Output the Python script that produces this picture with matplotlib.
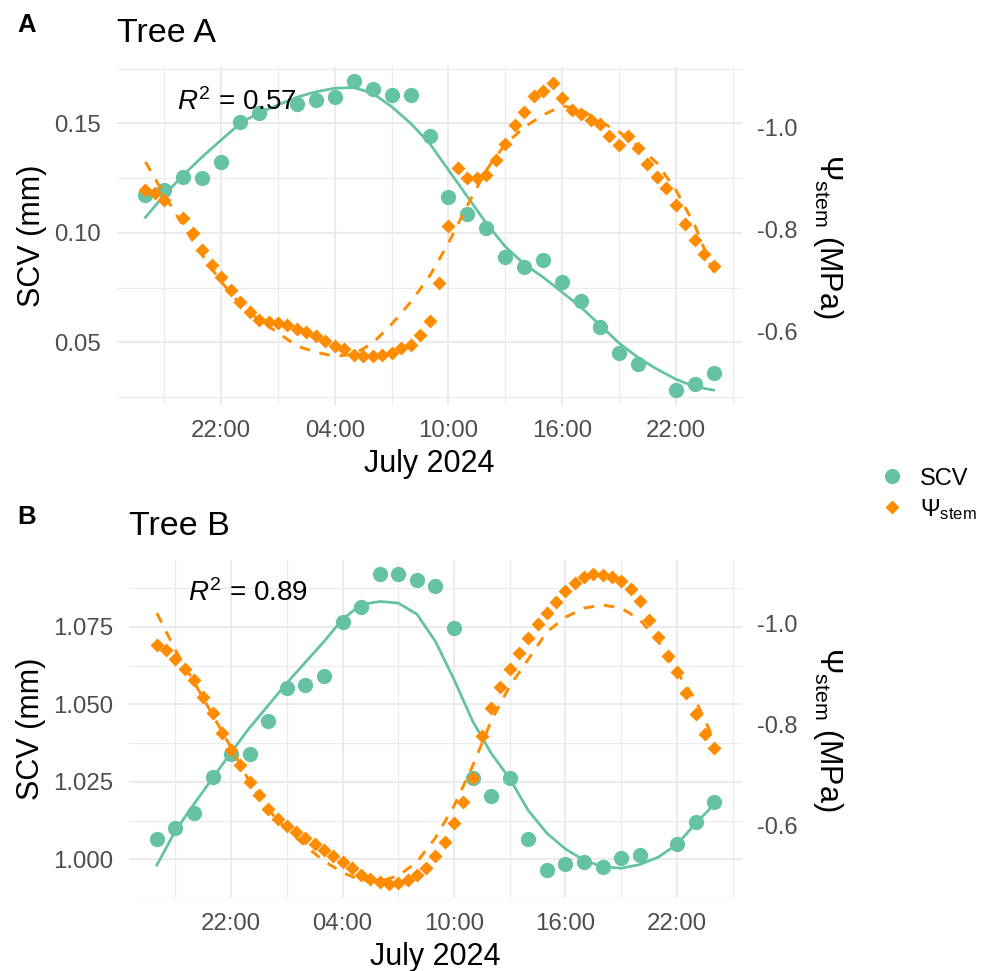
import numpy as np
import pandas as pd
import matplotlib
matplotlib.use('Agg')
import matplotlib.pyplot as plt
import matplotlib.dates as mdates
from matplotlib.lines import Line2D

plt.rcParams['font.family'] = ['Liberation Sans', 'DejaVu Sans']
plt.rcParams['mathtext.fontset'] = 'custom'
plt.rcParams['mathtext.rm'] = 'Liberation Sans'
plt.rcParams['mathtext.it'] = 'Liberation Sans:italic'
plt.rcParams['mathtext.bf'] = 'Liberation Sans:bold'
plt.rcParams['axes.unicode_minus'] = False

GREEN = '#66C2A5'
ORANGE = '#FF8C00'
nan = np.nan

# time axes: hourly SCV / fits, half-hourly stem water potential
t_hour = pd.date_range('2024-07-15 18:00', periods=31, freq='h')
t_half = pd.date_range('2024-07-15 18:00', periods=61, freq='30min')

# ---- Tree A ----
scv_a = [0.1173, 0.1195, 0.1253, 0.1249, 0.1325, 0.1505,
         0.1546, nan, 0.1586, 0.1606, 0.1618, 0.1695, 0.1658, 0.1628, 0.1628, 0.1443,
         0.1164, 0.1086, 0.1021, 0.0891, 0.0842, 0.0874, 0.0777, 0.0690, 0.0571, 0.0450,
         0.0401, nan, 0.0282, 0.0311, 0.0358]
scv_a_fit = [0.1071, 0.1173, 0.1264, 0.1347, 0.1424, 0.1500, 0.1548, 0.1584, 0.1619, 0.1644,
             0.1660, 0.1663, 0.1637, 0.1576, 0.1500, 0.1409, 0.1287, 0.1165, 0.1043, 0.0937,
             0.0857, 0.0797, 0.0729, 0.0660, 0.0579, 0.0497, 0.0431, 0.0378, 0.0332, 0.0298,
             0.0282]
psi_a = [-0.878, -0.872, -0.859, nan, -0.824, -0.793, -0.760, -0.730, -0.708, -0.681, -0.658, -0.639,
         -0.623, -0.620, -0.617, -0.613, -0.606, -0.600, -0.592, -0.581, -0.573, -0.566, -0.554, -0.553,
         -0.553, -0.554, -0.558, -0.568, -0.575, -0.593, -0.621, -0.696, -0.808, -0.922, -0.901, -0.901,
         -0.907, -0.936, -0.969, -1.005, -1.030, -1.062, -1.071, -1.088, -1.058, -1.035, -1.026, -1.016,
         -1.007, -0.984, -0.967, -0.984, -0.960, -0.928, -0.903, -0.881, -0.848, -0.811, -0.780, -0.753,
         -0.729]
psi_a_fit = [-0.933, -0.868, -0.807, -0.750, -0.698, -0.654, -0.623, -0.598, -0.572, -0.560,
             -0.552, -0.556, -0.578, -0.615, -0.658, -0.709, -0.774, -0.848, -0.917, -0.968,
             -1.001, -1.025, -1.043, -1.035, -1.012, -0.992, -0.964, -0.931, -0.878, -0.809,
             -0.717]

# ---- Tree B ----
scv_b = [1.0064, 1.0100, 1.0149, 1.0265, 1.0339, 1.0340,
         1.0447, 1.0554, 1.0564, 1.0592, 1.0765, 1.0815, 1.0920, 1.0920, 1.0901, 1.0882,
         1.0747, 1.0263, 1.0205, 1.0263, 1.0064, 0.9966, 0.9986, 0.9992, 0.9974, 1.0004,
         1.0014, nan, 1.0050, 1.0121, 1.0186]
scv_b_fit = [0.9981, 1.0092, 1.0178, 1.0262, 1.0345, 1.0425, 1.0497, 1.0569, 1.0636, 1.0703,
             1.0775, 1.0822, 1.0832, 1.0827, 1.0791, 1.0703, 1.0580, 1.0446, 1.0342, 1.0260,
             1.0157, 1.0084, 1.0033, 0.9997, 0.9976, 0.9971, 0.9983, 1.0007, 1.0048, 1.0115,
             1.0177]
psi_b = [-0.957, -0.947, -0.929, -0.910, -0.888, -0.854, -0.823, -0.783, -0.750, -0.720, -0.687, -0.660,
         -0.632, -0.613, -0.599, -0.587, -0.575, -0.563, -0.551, -0.540, -0.528, -0.516, -0.502, -0.494,
         -0.489, -0.484, -0.487, -0.493, -0.502, -0.516, -0.540, -0.568, -0.605, -0.646, -0.694, -0.778,
         -0.833, -0.873, -0.909, -0.941, -0.970, -0.998, -1.021, -1.041, -1.063, -1.079, -1.091, -1.097,
         -1.095, -1.091, -1.083, -1.068, -1.044, -1.007, -0.972, -0.936, -0.903, -0.862, -0.821, -0.782,
         -0.753]
psi_b_fit = [-1.020, -0.947, -0.884, -0.819, -0.754, -0.686, -0.631, -0.592, -0.560, -0.530,
             -0.507, -0.492, -0.490, -0.501, -0.528, -0.576, -0.639, -0.718, -0.807, -0.876,
             -0.929, -0.983, -1.012, -1.030, -1.036, -1.030, -1.007, -0.965, -0.904, -0.848,
             -0.769]

panels = [
    dict(letter='A', title='Tree A', r2='0.57', scv=scv_a, fit=scv_a_fit, psi=psi_a, pfit=psi_a_fit,
         pos=[0.1187, 0.5829, 0.6339, 0.3481], ylim=(0.0214, 0.1757), plim=(-0.4565, -1.119),
         major=[0.05, 0.10, 0.15], minor=[0.025, 0.075, 0.125, 0.175], fmt='%.2f',
         r2_xy=(pd.Timestamp('2024-07-15 22:47'), 0.1599), letter_y=25),
    dict(letter='B', title='Tree B', r2='0.89', scv=scv_b, fit=scv_b_fit, psi=psi_b, pfit=psi_b_fit,
         pos=[0.1308, 0.0752, 0.6217, 0.3481], ylim=(0.99205, 1.0966), plim=(-0.457, -1.125),
         major=[1.000, 1.025, 1.050, 1.075], minor=[0.9875, 1.0125, 1.0375, 1.0625, 1.0875], fmt='%.3f',
         r2_xy=(pd.Timestamp('2024-07-15 22:53'), 1.0858), letter_y=517),
]

fig = plt.figure(figsize=(9.86, 9.71), dpi=100)

for p in panels:
    ax = fig.add_axes(p['pos'])
    ax.plot(t_hour, p['scv'], 'o', color=GREEN, ms=11, mec='none', zorder=3)
    ax.plot(t_hour, p['fit'], '-', color=GREEN, lw=2.0, zorder=3)
    ax.set_xlim(t_hour[0] - pd.Timedelta(hours=1.5), t_hour[-1] + pd.Timedelta(hours=1.5))
    ax.set_ylim(*p['ylim'])
    ax.set_yticks(p['major'])
    ax.set_yticks(p['minor'], minor=True)
    ax.set_yticklabels([p['fmt'] % v for v in p['major']])
    ax.xaxis.set_major_locator(mdates.HourLocator(byhour=[4, 10, 16, 22]))
    ax.xaxis.set_minor_locator(mdates.HourLocator(byhour=[1, 7, 13, 19]))
    ax.xaxis.set_major_formatter(mdates.DateFormatter('%H:%M'))
    ax.grid(True, which='major', color='#EBEBEB', lw=1.5)
    ax.grid(True, which='minor', color='#EBEBEB', lw=0.8)
    ax.set_axisbelow(True)
    for s in ax.spines.values():
        s.set_visible(False)
    ax.tick_params(which='both', length=0)
    ax.tick_params(axis='y', labelsize=17.3, labelcolor='#4D4D4D', pad=11.5)
    ax.tick_params(axis='x', labelsize=17.3, labelcolor='#4D4D4D', pad=11)
    ax.set_ylabel('SCV (mm)', fontsize=22, labelpad=5)
    ax.set_xlabel('July 2024', fontsize=22, labelpad=5)
    ax.set_title(p['title'], loc='left', fontsize=24.5, pad=18)
    ax.text(p['r2_xy'][0], p['r2_xy'][1], r'$R^2$ = ' + p['r2'], fontsize=20,
            ha='center', va='center', zorder=5)

    ax2 = ax.twinx()
    ax2.plot(t_half, p['psi'], 'D', color=ORANGE, ms=7.4, mec='none', zorder=3)
    ax2.plot(t_hour, p['pfit'], '--', color=ORANGE, lw=2.1, dashes=(3.6, 3.4), zorder=4)
    ax2.set_ylim(*p['plim'])
    ax2.set_yticks([-1.0, -0.8, -0.6])
    ax2.set_yticklabels(['-1.0', '-0.8', '-0.6'])
    for s in ax2.spines.values():
        s.set_visible(False)
    ax2.tick_params(which='both', length=0)
    ax2.tick_params(axis='y', labelsize=17, labelcolor='#4D4D4D', pad=11)
    ax2.set_ylabel(r'$\Psi_{\mathrm{stem}}$ (MPa)', fontsize=22, rotation=270, labelpad=34)

    fig.text(27 / 986, 1 - p['letter_y'] / 971, p['letter'], fontsize=18.5, fontweight='bold',
             ha='center', va='center')

handles = [Line2D([], [], marker='o', ls='', color=GREEN, ms=11, mec='none'),
           Line2D([], [], marker='D', ls='', color=ORANGE, ms=7.4, mec='none')]
fig.legend(handles, ['SCV', r'$\Psi_{\mathrm{stem}}$'], loc='center left',
           bbox_to_anchor=(0.8924, 0.4907), frameon=False, fontsize=17,
           handlelength=1.0, handletextpad=0.7, borderpad=0, borderaxespad=0, labelspacing=0.3)

fig.savefig('out.png', dpi=100, facecolor='white')
